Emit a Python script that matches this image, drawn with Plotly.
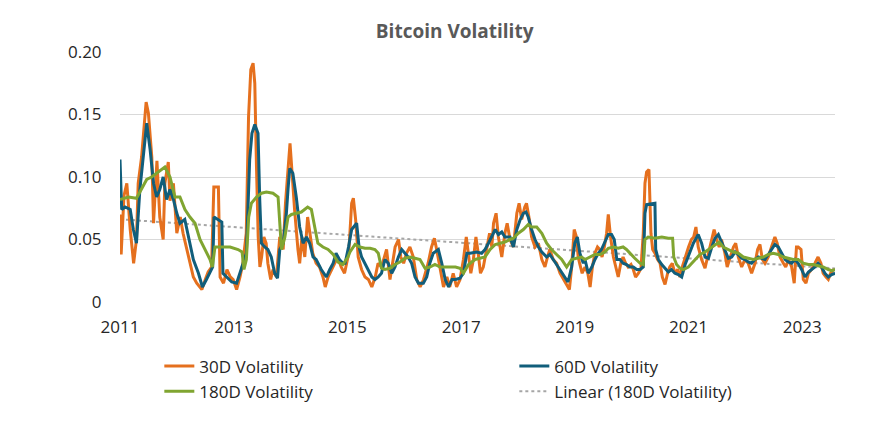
import numpy as np
import plotly.graph_objects as go
from datetime import datetime

# ---------------- data (decimal years, volatility) ----------------
t30 = [2011.00, 2011.02, 2011.07, 2011.12, 2011.18, 2011.24, 2011.29, 2011.32, 2011.38, 2011.46,
       2011.50, 2011.56, 2011.59, 2011.65, 2011.70, 2011.76, 2011.79, 2011.85, 2011.88, 2011.94,
       2012.00, 2012.06, 2012.11, 2012.17, 2012.23, 2012.29, 2012.35, 2012.44, 2012.50, 2012.55,
       2012.61, 2012.65, 2012.73, 2012.76, 2012.82, 2012.88, 2012.94, 2012.99, 2013.05, 2013.11,
       2013.16, 2013.22, 2013.26, 2013.30, 2013.34, 2013.37, 2013.40, 2013.43, 2013.46, 2013.49,
       2013.53, 2013.57, 2013.60, 2013.65, 2013.69, 2013.75, 2013.81, 2013.87, 2013.91, 2013.96,
       2013.99, 2014.01, 2014.04, 2014.07, 2014.13, 2014.16, 2014.20, 2014.25, 2014.30, 2014.35,
       2014.39, 2014.45, 2014.51, 2014.57, 2014.61, 2014.66, 2014.72, 2014.78, 2014.83, 2014.89,
       2014.95, 2015.01, 2015.03, 2015.075, 2015.105, 2015.145, 2015.19, 2015.25, 2015.31, 2015.37,
       2015.43, 2015.49, 2015.54, 2015.60, 2015.66, 2015.69, 2015.75, 2015.79, 2015.84, 2015.90,
       2015.94, 2015.99, 2016.04, 2016.10, 2016.16, 2016.22, 2016.28, 2016.34, 2016.42, 2016.48,
       2016.53, 2016.57, 2016.63, 2016.69, 2016.75, 2016.80, 2016.86, 2016.92, 2016.98, 2017.04,
       2017.09, 2017.13, 2017.17, 2017.215, 2017.26, 2017.30, 2017.34, 2017.39, 2017.45, 2017.50,
       2017.54, 2017.57, 2017.615, 2017.655, 2017.715, 2017.77, 2017.81, 2017.86, 2017.92, 2017.98,
       2018.02, 2018.065, 2018.12, 2018.15, 2018.20, 2018.24, 2018.30, 2018.36, 2018.42, 2018.475,
       2018.52, 2018.56, 2018.62, 2018.68, 2018.74, 2018.80, 2018.845, 2018.905, 2018.945, 2018.99,
       2019.03, 2019.06, 2019.09, 2019.13, 2019.18, 2019.23, 2019.27, 2019.31, 2019.355, 2019.40,
       2019.44, 2019.48, 2019.52, 2019.56, 2019.59, 2019.63, 2019.68, 2019.72, 2019.765, 2019.81,
       2019.85, 2019.895, 2019.94, 2019.99, 2020.03, 2020.07, 2020.12, 2020.165, 2020.205, 2020.235,
       2020.264, 2020.305, 2020.34, 2020.37, 2020.41, 2020.457, 2020.50, 2020.54, 2020.587, 2020.633,
       2020.67, 2020.715, 2020.76, 2020.81, 2020.85, 2020.89, 2020.94, 2021.00, 2021.05, 2021.09,
       2021.13, 2021.17, 2021.23, 2021.29, 2021.35, 2021.41, 2021.45, 2021.495, 2021.54, 2021.58,
       2021.64, 2021.68, 2021.73, 2021.79, 2021.83, 2021.876, 2021.935, 2021.994, 2022.05, 2022.11,
       2022.17, 2022.216, 2022.257, 2022.30, 2022.345, 2022.404, 2022.46, 2022.52, 2022.56, 2022.61,
       2022.67, 2022.71, 2022.76, 2022.815, 2022.86, 2022.90, 2022.93, 2022.98, 2023.02, 2023.067,
       2023.11, 2023.166, 2023.225, 2023.28, 2023.33, 2023.37, 2023.42, 2023.46, 2023.50, 2023.55]
v30 = [0.070, 0.038, 0.085, 0.095, 0.058, 0.031, 0.050, 0.095, 0.116, 0.160,
       0.151, 0.116, 0.063, 0.113, 0.068, 0.050, 0.095, 0.112, 0.081, 0.095,
       0.055, 0.068, 0.055, 0.044, 0.031, 0.020, 0.015, 0.010, 0.018, 0.024,
       0.028, 0.092, 0.092, 0.020, 0.015, 0.026, 0.020, 0.018, 0.010, 0.020,
       0.031, 0.055, 0.148, 0.186, 0.191, 0.175, 0.108, 0.052, 0.028, 0.036,
       0.052, 0.047, 0.031, 0.018, 0.026, 0.020, 0.052, 0.042, 0.079, 0.108,
       0.127, 0.114, 0.090, 0.074, 0.042, 0.031, 0.052, 0.036, 0.068, 0.052,
       0.039, 0.031, 0.028, 0.020, 0.012, 0.020, 0.026, 0.031, 0.036, 0.028,
       0.023, 0.036, 0.044, 0.079, 0.083, 0.066, 0.036, 0.026, 0.020, 0.018,
       0.012, 0.020, 0.031, 0.028, 0.039, 0.042, 0.018, 0.031, 0.044, 0.050,
       0.036, 0.031, 0.039, 0.044, 0.036, 0.018, 0.012, 0.018, 0.031, 0.044,
       0.051, 0.042, 0.028, 0.012, 0.020, 0.012, 0.023, 0.012, 0.018, 0.034,
       0.052, 0.036, 0.023, 0.034, 0.052, 0.039, 0.023, 0.028, 0.044, 0.055,
       0.044, 0.063, 0.071, 0.052, 0.036, 0.055, 0.063, 0.050, 0.044, 0.071,
       0.079, 0.066, 0.076, 0.079, 0.066, 0.052, 0.044, 0.047, 0.034, 0.028,
       0.036, 0.042, 0.034, 0.031, 0.023, 0.018, 0.015, 0.010, 0.028, 0.058,
       0.052, 0.036, 0.030, 0.023, 0.028, 0.023, 0.012, 0.028, 0.039, 0.044,
       0.042, 0.036, 0.044, 0.055, 0.070, 0.052, 0.036, 0.028, 0.020, 0.031,
       0.036, 0.031, 0.028, 0.030, 0.026, 0.020, 0.023, 0.027, 0.055, 0.095,
       0.104, 0.106, 0.055, 0.042, 0.039, 0.034, 0.031, 0.020, 0.014, 0.023,
       0.028, 0.031, 0.023, 0.026, 0.020, 0.028, 0.036, 0.044, 0.050, 0.052,
       0.060, 0.044, 0.034, 0.027, 0.039, 0.052, 0.058, 0.050, 0.044, 0.050,
       0.039, 0.028, 0.036, 0.044, 0.047, 0.036, 0.028, 0.034, 0.031, 0.023,
       0.031, 0.042, 0.046, 0.034, 0.031, 0.036, 0.044, 0.052, 0.047, 0.036,
       0.031, 0.028, 0.034, 0.028, 0.015, 0.044, 0.044, 0.042, 0.018, 0.015,
       0.023, 0.026, 0.031, 0.036, 0.031, 0.023, 0.020, 0.018, 0.023, 0.026]

t60 = [2011.00, 2011.03, 2011.09, 2011.18, 2011.235, 2011.29, 2011.35, 2011.41, 2011.47, 2011.53,
       2011.59, 2011.645, 2011.70, 2011.76, 2011.82, 2011.88, 2011.94, 2012.00, 2012.055, 2012.14,
       2012.20, 2012.29, 2012.38, 2012.45, 2012.52, 2012.63, 2012.653, 2012.79, 2012.81, 2012.876,
       2012.964, 2013.05, 2013.135, 2013.222, 2013.28, 2013.32, 2013.37, 2013.427, 2013.457, 2013.486,
       2013.545, 2013.60, 2013.66, 2013.72, 2013.77, 2013.81, 2013.87, 2013.926, 2013.955, 2013.985,
       2014.04, 2014.10, 2014.16, 2014.22, 2014.28, 2014.336, 2014.395, 2014.45, 2014.54, 2014.63,
       2014.69, 2014.75, 2014.80, 2014.86, 2014.92, 2014.96, 2015.02, 2015.075, 2015.163, 2015.205,
       2015.25, 2015.31, 2015.37, 2015.43, 2015.485, 2015.544, 2015.60, 2015.66, 2015.72, 2015.78,
       2015.838, 2015.897, 2015.956, 2016.015, 2016.07, 2016.13, 2016.19, 2016.25, 2016.336, 2016.395,
       2016.45, 2016.51, 2016.60, 2016.66, 2016.72, 2016.78, 2016.84, 2016.90, 2016.98, 2017.04,
       2017.10, 2017.156, 2017.274, 2017.36, 2017.42, 2017.48, 2017.54, 2017.60, 2017.655, 2017.715,
       2017.77, 2017.86, 2017.92, 2017.98, 2018.04, 2018.095, 2018.14, 2018.18, 2018.24, 2018.30,
       2018.36, 2018.42, 2018.505, 2018.56, 2018.65, 2018.74, 2018.83, 2018.88, 2018.945, 2019.00,
       2019.045, 2019.09, 2019.15, 2019.18, 2019.238, 2019.30, 2019.355, 2019.414, 2019.47, 2019.53,
       2019.59, 2019.648, 2019.695, 2019.74, 2019.795, 2019.85, 2019.91, 2019.97, 2020.03, 2020.09,
       2020.15, 2020.205, 2020.235, 2020.264, 2020.41, 2020.423, 2020.47, 2020.53, 2020.587, 2020.645,
       2020.70, 2020.76, 2020.82, 2020.88, 2020.94, 2020.996, 2021.085, 2021.17, 2021.23, 2021.29,
       2021.35, 2021.41, 2021.466, 2021.525, 2021.58, 2021.64, 2021.70, 2021.76, 2021.82, 2021.876,
       2021.935, 2021.994, 2022.05, 2022.11, 2022.17, 2022.23, 2022.287, 2022.345, 2022.404, 2022.46,
       2022.52, 2022.58, 2022.64, 2022.70, 2022.756, 2022.815, 2022.874, 2022.93, 2022.99, 2023.05,
       2023.11, 2023.166, 2023.225, 2023.28, 2023.34, 2023.40, 2023.46, 2023.52, 2023.58]
v60 = [0.114, 0.074, 0.076, 0.074, 0.058, 0.047, 0.090, 0.116, 0.143, 0.122,
       0.095, 0.084, 0.090, 0.100, 0.082, 0.090, 0.082, 0.071, 0.063, 0.066,
       0.052, 0.034, 0.023, 0.012, 0.018, 0.028, 0.068, 0.064, 0.023, 0.020,
       0.016, 0.015, 0.026, 0.039, 0.114, 0.135, 0.142, 0.135, 0.082, 0.047,
       0.044, 0.042, 0.036, 0.023, 0.019, 0.042, 0.047, 0.071, 0.090, 0.107,
       0.103, 0.084, 0.060, 0.047, 0.052, 0.047, 0.036, 0.034, 0.026, 0.020,
       0.026, 0.031, 0.039, 0.034, 0.031, 0.031, 0.044, 0.058, 0.063, 0.044,
       0.036, 0.031, 0.026, 0.020, 0.018, 0.020, 0.023, 0.034, 0.031, 0.023,
       0.028, 0.036, 0.042, 0.039, 0.036, 0.031, 0.020, 0.015, 0.015, 0.020,
       0.031, 0.039, 0.042, 0.031, 0.018, 0.012, 0.018, 0.018, 0.019, 0.023,
       0.039, 0.039, 0.040, 0.039, 0.042, 0.047, 0.052, 0.058, 0.054, 0.056,
       0.052, 0.052, 0.044, 0.058, 0.066, 0.071, 0.072, 0.068, 0.058, 0.050,
       0.044, 0.040, 0.036, 0.038, 0.032, 0.026, 0.020, 0.016, 0.028, 0.047,
       0.052, 0.039, 0.031, 0.034, 0.023, 0.028, 0.034, 0.039, 0.042, 0.048,
       0.054, 0.054, 0.050, 0.034, 0.034, 0.031, 0.030, 0.028, 0.028, 0.026,
       0.026, 0.028, 0.071, 0.078, 0.079, 0.042, 0.034, 0.030, 0.027, 0.024,
       0.026, 0.023, 0.022, 0.020, 0.030, 0.036, 0.047, 0.054, 0.047, 0.036,
       0.035, 0.044, 0.051, 0.054, 0.048, 0.042, 0.035, 0.036, 0.040, 0.038,
       0.035, 0.034, 0.032, 0.031, 0.034, 0.036, 0.035, 0.034, 0.038, 0.042,
       0.046, 0.044, 0.039, 0.034, 0.032, 0.031, 0.034, 0.031, 0.026, 0.020,
       0.024, 0.026, 0.028, 0.031, 0.028, 0.023, 0.020, 0.022, 0.023]

t180 = [2011.00, 2011.15, 2011.29, 2011.38, 2011.47, 2011.557, 2011.674, 2011.79, 2011.88, 2011.967,
        2012.055, 2012.143, 2012.23, 2012.32, 2012.407, 2012.495, 2012.583, 2012.624, 2012.67, 2012.79,
        2012.935, 2013.076, 2013.146, 2013.18, 2013.222, 2013.263, 2013.31, 2013.40, 2013.486, 2013.574,
        2013.69, 2013.78, 2013.81, 2013.84, 2013.90, 2013.955, 2014.015, 2014.10, 2014.19, 2014.30,
        2014.366, 2014.425, 2014.48, 2014.57, 2014.66, 2014.75, 2014.835, 2014.92, 2015.01, 2015.046,
        2015.134, 2015.22, 2015.31, 2015.40, 2015.485, 2015.544, 2015.60, 2015.66, 2015.75, 2015.838,
        2015.926, 2016.015, 2016.10, 2016.19, 2016.277, 2016.366, 2016.45, 2016.54, 2016.63, 2016.72,
        2016.80, 2016.90, 2016.98, 2017.04, 2017.13, 2017.245, 2017.33, 2017.42, 2017.51, 2017.60,
        2017.685, 2017.77, 2017.86, 2017.92, 2018.007, 2018.095, 2018.18, 2018.24, 2018.33, 2018.42,
        2018.505, 2018.59, 2018.68, 2018.77, 2018.857, 2018.945, 2019.03, 2019.12, 2019.18, 2019.27,
        2019.355, 2019.443, 2019.53, 2019.59, 2019.678, 2019.765, 2019.85, 2019.91, 2019.97, 2020.056,
        2020.15, 2020.205, 2020.235, 2020.29, 2020.41, 2020.53, 2020.645, 2020.72, 2020.74, 2020.79,
        2020.85, 2020.91, 2020.996, 2021.114, 2021.20, 2021.29, 2021.378, 2021.466, 2021.54, 2021.61,
        2021.70, 2021.79, 2021.876, 2021.965, 2022.05, 2022.14, 2022.23, 2022.316, 2022.404, 2022.49,
        2022.58, 2022.67, 2022.756, 2022.844, 2022.93, 2023.02, 2023.11, 2023.196, 2023.28, 2023.37,
        2023.46, 2023.52, 2023.58]
v180 = [0.082, 0.084, 0.083, 0.090, 0.098, 0.100, 0.104, 0.108, 0.100, 0.084,
        0.084, 0.074, 0.068, 0.063, 0.050, 0.042, 0.034, 0.028, 0.044, 0.044,
        0.044, 0.042, 0.040, 0.026, 0.034, 0.068, 0.079, 0.084, 0.087, 0.088,
        0.087, 0.084, 0.060, 0.042, 0.052, 0.068, 0.070, 0.071, 0.072, 0.076,
        0.074, 0.060, 0.047, 0.044, 0.042, 0.038, 0.032, 0.030, 0.036, 0.040,
        0.046, 0.044, 0.043, 0.043, 0.042, 0.039, 0.027, 0.026, 0.027, 0.030,
        0.032, 0.035, 0.036, 0.035, 0.034, 0.027, 0.028, 0.030, 0.028, 0.028,
        0.028, 0.028, 0.027, 0.023, 0.030, 0.034, 0.035, 0.036, 0.042, 0.046,
        0.047, 0.048, 0.050, 0.051, 0.055, 0.058, 0.062, 0.060, 0.060, 0.055,
        0.047, 0.042, 0.038, 0.034, 0.028, 0.034, 0.035, 0.036, 0.034, 0.036,
        0.038, 0.038, 0.040, 0.043, 0.044, 0.043, 0.044, 0.042, 0.039, 0.035,
        0.031, 0.030, 0.050, 0.052, 0.051, 0.052, 0.051, 0.051, 0.036, 0.030,
        0.027, 0.026, 0.028, 0.034, 0.038, 0.040, 0.043, 0.046, 0.048, 0.044,
        0.042, 0.040, 0.039, 0.036, 0.035, 0.034, 0.035, 0.036, 0.038, 0.039,
        0.038, 0.036, 0.035, 0.034, 0.034, 0.031, 0.030, 0.030, 0.029, 0.028,
        0.026, 0.025, 0.026]

y_tick_vals = [0, 0.05, 0.10, 0.15, 0.20]
y_tick_text = ["0", "0.05", "0.10", "0.15", "0.20"]
x_tick_years = [2011, 2013, 2015, 2017, 2019, 2021, 2023]

TITLE = "Bitcoin Volatility"
NAMES = ["30D Volatility", "60D Volatility", "180D Volatility", "Linear (180D Volatility)"]


def to_date(t):
    y = int(t)
    start = datetime(y, 1, 1)
    end = datetime(y + 1, 1, 1)
    return start + (end - start) * (t - y)


d30 = [to_date(t) for t in t30]
d60 = [to_date(t) for t in t60]
d180 = [to_date(t) for t in t180]

# linear trendline of the 180D series
slope, intercept = np.polyfit(np.array(t180), np.array(v180), 1)
trend_t = [t180[0], t180[-1]]
trend_v = [slope * t + intercept for t in trend_t]
trend_d = [to_date(t) for t in trend_t]

C30 = "#E5701E"
C60 = "#115E7B"
C180 = "#80A531"
CTR = "#A6A6A6"

fig = go.Figure()
fig.add_trace(go.Scatter(x=trend_d, y=trend_v, mode="lines", name=NAMES[3], legendrank=4,
                         line=dict(color=CTR, width=2, dash="dot")))
fig.add_trace(go.Scatter(x=d30, y=v30, mode="lines", name=NAMES[0], legendrank=1,
                         line=dict(color=C30, width=3)))
fig.add_trace(go.Scatter(x=d60, y=v60, mode="lines", name=NAMES[1], legendrank=2,
                         line=dict(color=C60, width=3)))
fig.add_trace(go.Scatter(x=d180, y=v180, mode="lines", name=NAMES[2], legendrank=3,
                         line=dict(color=C180, width=3)))

fig.update_layout(
    width=895, height=423,
    margin=dict(l=120, r=60, t=52, b=121, autoexpand=False),
    paper_bgcolor="white", plot_bgcolor="white",
    font=dict(family="Open Sans", size=17, color="#262626"),
    title=dict(text="<b>" + TITLE + "</b>", x=0.508, xref="container", xanchor="center",
               y=1 - 31 / 423, yref="container", yanchor="middle",
               font=dict(family="Open Sans", size=19, color="#595959")),
    showlegend=True,
    legend=dict(orientation="h", x=0.055, xanchor="left", y=-0.186, yanchor="top",
                entrywidth=310, entrywidthmode="pixels", traceorder="normal",
                font=dict(family="Open Sans", size=17, color="#262626"),
                bgcolor="rgba(0,0,0,0)", tracegroupgap=0, itemwidth=30),
)
fig.update_xaxes(
    type="date",
    range=[datetime(2011, 1, 1), datetime(2023, 7, 31)],
    tickvals=[datetime(y, 1, 1) for y in x_tick_years],
    ticktext=[str(y) for y in x_tick_years],
    showgrid=False, zeroline=False, showline=False,
    ticks="outside", ticklen=10, tickcolor="rgba(0,0,0,0)",
    tickfont=dict(family="Open Sans", size=17, color="#262626"),
)
fig.update_yaxes(
    range=[0, 0.2],
    tickvals=y_tick_vals, ticktext=y_tick_text,
    showgrid=True, gridcolor="#D9D9D9", gridwidth=1,
    zeroline=False, showline=False,
    ticks="outside", ticklen=14, tickcolor="rgba(0,0,0,0)",
    tickfont=dict(family="Open Sans", size=17, color="#262626"),
)

fig.write_html("out.html")
